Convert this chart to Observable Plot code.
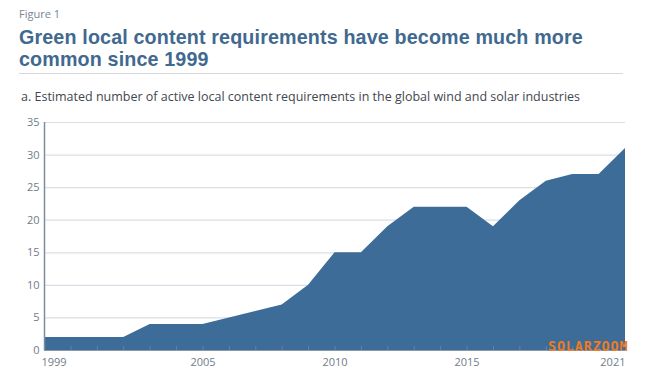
<!DOCTYPE html>
<html>
<head>
<meta charset="utf-8">
<script src="https://cdn.jsdelivr.net/npm/d3@7"></script>
<script src="https://cdn.jsdelivr.net/npm/@observablehq/plot@0.6"></script>
<style>
  html, body { margin: 0; padding: 0; background: #fff; }
  #wrap { position: relative; width: 650px; height: 383px; overflow: hidden; font-family: "Open Sans", sans-serif; }
  .fig { position: absolute; left: 19px; top: 6px; font-size: 11px; color: #7a8590; }
  .title { position: absolute; left: 19px; font-family: "Liberation Sans", Arial, sans-serif; font-size: 19.7px; font-weight: 700; line-height: 1; color: #41698f; white-space: nowrap; letter-spacing: 0.15px; }
  .t1 { top: 28px; }
  .t2 { top: 50px; }
  .rule { position: absolute; left: 19px; top: 73px; width: 604px; height: 1px; background: #d3d9de; }
  .sub { position: absolute; left: 21px; top: 88px; font-size: 12.5px; color: #3f4750; }
  #chart { position: absolute; left: 0; top: 110px; }
  .wm { position: absolute; left: 548px; top: 340px; font-family: "DejaVu Sans Mono", monospace; font-size: 13.5px; line-height: 1; font-weight: 700; color: #ee7a22; letter-spacing: 0.8px; }
</style>
</head>
<body>
<div id="wrap">
  <div class="fig">Figure 1</div>
  <div class="title t1">Green local content requirements have become much more</div>
  <div class="title t2">common since 1999</div>
  <div class="rule"></div>
  <div class="sub">a. Estimated number of active local content requirements in the global wind and solar industries</div>
  <div id="chart"></div>
  <div class="wm">SOLARZOOM</div>
</div>
<script>
const years = [1999,2000,2001,2002,2003,2004,2005,2006,2007,2008,2009,2010,2011,2012,2013,2014,2015,2016,2017,2018,2019,2020,2021];
const counts = [2,2,2,2,4,4,4,5,6,7,10,15,15,19,22,22,22,19,23,26,27,27,31];
const xTicks = [1999,2005,2010,2015,2021];
const yTicks = [0,5,10,15,20,25,30,35];

const data = years.map((y, i) => ({year: y, value: counts[i]}));
const fmt = d3.format("d");

const chart = Plot.plot({
  width: 650,
  height: 273,
  marginLeft: 44,
  marginRight: 25,
  marginTop: 12,
  marginBottom: 33,
  style: {fontFamily: "Open Sans, sans-serif", fontSize: "11px", color: "#6f7c88", background: "#fff"},
  x: {domain: [1999, 2021], label: null},
  y: {domain: [0, 35], label: null},
  marks: [
    Plot.gridY(yTicks, {stroke: "#d9dfe6", strokeOpacity: 1, strokeWidth: 1.2}),
    Plot.areaY(data, {x: "year", y: "value", fill: "#3d6c99", curve: "linear"}),
    Plot.ruleX(years, {y1: 0, y2: 0.55, stroke: "#5f86ad", strokeWidth: 1}),
    Plot.ruleY([0], {stroke: "#8a97a6", strokeWidth: 1}),
    Plot.ruleX([1999], {y1: 0, y2: 35, stroke: "#7e8c9c", strokeWidth: 1.5}),
    Plot.axisX([xTicks[0]], {tickFormat: fmt, tickSize: 0, tickPadding: 8, textAnchor: "start", dx: -3}),
    Plot.axisX(xTicks.slice(1, -1), {tickFormat: fmt, tickSize: 0, tickPadding: 8}),
    Plot.axisX([xTicks[xTicks.length - 1]], {tickFormat: fmt, tickSize: 0, tickPadding: 8, textAnchor: "end", dx: 0}),
    Plot.axisY({ticks: yTicks, tickSize: 0, tickPadding: 5})
  ]
});
document.getElementById("chart").appendChild(chart);
</script>
</body>
</html>
